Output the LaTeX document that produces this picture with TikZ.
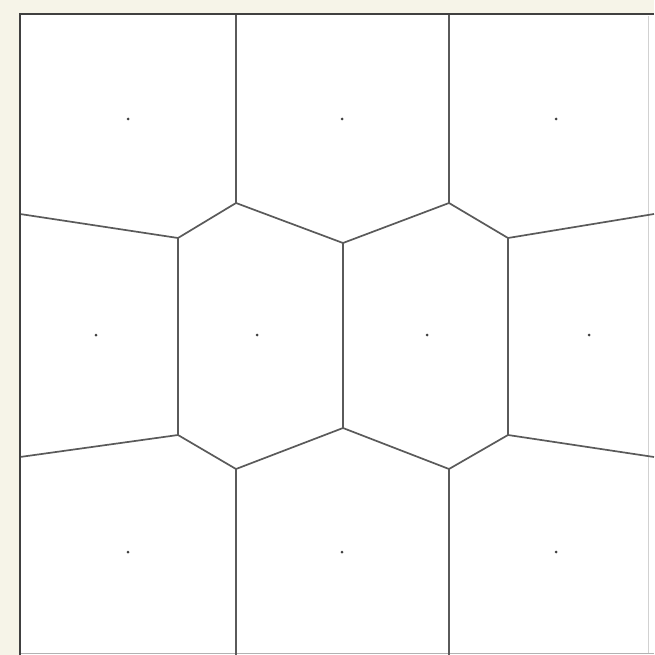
\documentclass[tikz,border=0pt]{standalone}
\definecolor{cream}{HTML}{F6F4E8}
\definecolor{edge}{HTML}{5A5A5A}
\tikzset{
  cell/.style={draw=edge, line width=1.7pt, line join=round},
  site/.style={circle, fill=black!75, inner sep=0pt, minimum size=3pt},
}
\begin{document}
\begin{tikzpicture}[x=1pt,y=-1pt]
\useasboundingbox (0,0) rectangle (654,655);
\fill[cream] (0,0) rectangle (654,655);
\fill[white] (20,14) rectangle (654,655);
\draw[black!18, line width=0.8pt] (648,16) -- (648,653);
\draw[black!30, line width=1pt] (20,653) -- (654,653);
% vertices
\coordinate (t1) at (236,14);
\coordinate (t2) at (449,14);
\coordinate (b1) at (236,655);
\coordinate (b2) at (449,655);
\coordinate (l1) at (20,214);
\coordinate (l2) at (20,457);
\coordinate (r1) at (654,214);
\coordinate (r2) at (654,457);
\coordinate (a) at (236,203);
\coordinate (b) at (449,203);
\coordinate (c) at (178,238);
\coordinate (d) at (343,243);
\coordinate (e) at (508,238);
\coordinate (f) at (178,435);
\coordinate (g) at (343,428);
\coordinate (h) at (508,435);
\coordinate (i) at (236,469);
\coordinate (j) at (449,469);
% edges
\draw[cell] (t1) -- (a) -- (d) -- (b) -- (t2);
\draw[cell] (l1) -- (c) -- (a);
\draw[cell] (b) -- (e) -- (r1);
\draw[cell] (c) -- (f);
\draw[cell] (d) -- (g);
\draw[cell] (e) -- (h);
\draw[cell] (l2) -- (f) -- (i) -- (g) -- (j) -- (h) -- (r2);
\draw[cell] (i) -- (b1);
\draw[cell] (j) -- (b2);
% sites
\node[site] (s1) at (128,119) {};
\node[site] (s2) at (342,119) {};
\node[site] (s3) at (556,119) {};
\node[site] (s4) at (96,335) {};
\node[site] (s5) at (257,335) {};
\node[site] (s6) at (427,335) {};
\node[site] (s7) at (589,335) {};
\node[site] (s8) at (128,552) {};
\node[site] (s9) at (342,552) {};
\node[site] (s10) at (556,552) {};
% frame
\draw[black!75, line width=2.4pt] (20,655) -- (20,14) -- (654,14);
\end{tikzpicture}
\end{document}
